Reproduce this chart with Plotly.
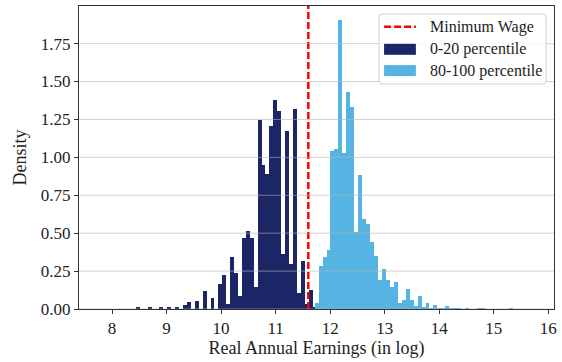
import numpy as np
import plotly.graph_objects as go

# Density histograms of log real annual earnings (55 bins per group)
low_range = (7.79, 11.75)      # 0-20 percentile
high_range = (11.716, 15.71)   # 80-100 percentile
n_bins = 55

low_density = [
    0, 0, 0, 0, 0, 0, 0, 0, 0,
    0.008, 0, 0, 0.008, 0, 0, 0.011, 0, 0.008, 0, 0.011,
    0, 0.025, 0.044, 0, 0.051, 0, 0.118, 0, 0.071, 0,
    0.165, 0.225, 0.033, 0.344, 0.240, 0.086, 0.469, 0.515, 0.469, 0.145,
    1.249, 0.952, 0.892, 1.209, 1.381, 1.309, 0.363, 1.176, 0.297, 1.322,
    0.106, 0.317, 0.033, 0.126, 0.012,
]
high_density = [
    0.038, 0.284, 0.344, 0.386, 1.044, 1.057, 1.903, 1.031, 1.428, 1.335,
    0.509, 0.886, 0.595, 0.562, 0.443, 0.350, 0.192, 0.264, 0.192, 0.145,
    0.178, 0.040, 0.059, 0.132, 0.059, 0.019, 0.085, 0.012, 0.040, 0.006,
    0.025, 0.005, 0.003, 0.019, 0.004, 0.004, 0.004, 0, 0.005, 0,
    0, 0.005, 0.005, 0, 0, 0, 0, 0, 0, 0.005,
    0, 0, 0, 0, 0,
]
min_wage_log = 11.6

x_ticks = [8, 9, 10, 11, 12, 13, 14, 15, 16]
y_ticks = [0, 0.25, 0.5, 0.75, 1.0, 1.25, 1.5, 1.75]

series_names = ["0-20 percentile", "80-100 percentile"]
line_name = "Minimum Wage"

NAVY = "#1c2566"
SKY = "#56b4e3"
RED = "#ff0000"
FONT = "Liberation Serif"

W, H = 562, 362
L, R, T, B = 79, 5, 6, 53
PW, PH = W - L - R, H - T - B


def edges(rng):
    return np.linspace(rng[0], rng[1], n_bins + 1)


low_edges = edges(low_range)
high_edges = edges(high_range)

span = high_range[1] - low_range[0]
x_lim = [low_range[0] - 0.05 * span, high_range[1] + 0.05 * span]
y_lim = [0, 1.05 * max(max(low_density), max(high_density))]

fig = go.Figure()
for e, dens, col, name in [(low_edges, low_density, NAVY, series_names[0]),
                           (high_edges, high_density, SKY, series_names[1])]:
    fig.add_trace(go.Bar(
        x=(e[:-1] + e[1:]) / 2, y=dens, width=np.diff(e),
        marker=dict(color=col, line=dict(width=0)),
        name=name, showlegend=False,
    ))

fig.add_trace(go.Scatter(
    x=[min_wage_log, min_wage_log], y=[0, y_lim[1]], mode="lines",
    line=dict(color=RED, width=2.5, dash="7px,3px"),
    name=line_name, showlegend=False,
))

# horizontal grid drawn over the bars
shapes = []
for v in y_ticks:
    shapes.append(dict(type="line", xref="paper", yref="y", x0=0, x1=1, y0=v, y1=v,
                       line=dict(color="rgba(180,180,180,0.6)", width=1), layer="above"))


def px(xp):
    return (xp - L) / PW


def py(yp):
    return (H - B - yp) / PH


# legend box with rounded corners
bx0, bx1, by0, by1, rad = 381, 549, 14, 84, 3
rx, ry = rad / PW, rad / PH
X0, X1, Y0, Y1 = px(bx0), px(bx1), py(by1), py(by0)
path = (f"M{X0+rx},{Y0} L{X1-rx},{Y0} Q{X1},{Y0} {X1},{Y0+ry} L{X1},{Y1-ry} "
        f"Q{X1},{Y1} {X1-rx},{Y1} L{X0+rx},{Y1} Q{X0},{Y1} {X0},{Y1-ry} "
        f"L{X0},{Y0+ry} Q{X0},{Y0} {X0+rx},{Y0} Z")
shapes.append(dict(type="path", xref="paper", yref="paper", path=path,
                   fillcolor="rgba(255,255,255,0.85)", line=dict(color="#d0d0d0", width=1),
                   layer="above"))

sym_x0, sym_x1, text_x = 386, 418, 430
rows = [26.7, 49.3, 70.6]
shapes.append(dict(type="line", xref="paper", yref="paper",
                   x0=px(sym_x0), x1=px(sym_x1), y0=py(rows[0]), y1=py(rows[0]),
                   line=dict(color=RED, width=2.5, dash="7px,3px"), layer="above"))
for yc, col in [(rows[1], NAVY), (rows[2], SKY)]:
    shapes.append(dict(type="rect", xref="paper", yref="paper",
                       x0=px(sym_x0), x1=px(sym_x1), y0=py(yc + 5.5), y1=py(yc - 5.5),
                       fillcolor=col, line=dict(width=0), layer="above"))

annotations = []
for yc, label in zip(rows, [line_name] + series_names):
    annotations.append(dict(xref="paper", yref="paper", x=px(text_x), y=py(yc),
                            text=label, showarrow=False, xanchor="left", yanchor="middle",
                            font=dict(family=FONT, size=16, color="#222")))

axis_common = dict(
    showline=True, mirror=True, linecolor="#333", linewidth=1,
    ticks="outside", ticklen=4, tickwidth=1, tickcolor="#333",
    tickfont=dict(family=FONT, size=17, color="#222"),
    zeroline=False, showgrid=False,
)

fig.update_layout(
    width=W, height=H,
    margin=dict(l=L, r=R, t=T, b=B),
    plot_bgcolor="white", paper_bgcolor="white",
    barmode="overlay", bargap=0,
    shapes=shapes, annotations=annotations,
    xaxis=dict(range=x_lim, tickvals=x_ticks, **axis_common,
               title=dict(text="Real Annual Earnings (in log)", standoff=3,
                          font=dict(family=FONT, size=18, color="#222"))),
    yaxis=dict(range=y_lim, tickvals=y_ticks, tickformat=".2f", **axis_common,
               title=dict(text="Density", standoff=9,
                          font=dict(family=FONT, size=18, color="#222"))),
)

fig.write_html("out.html")
